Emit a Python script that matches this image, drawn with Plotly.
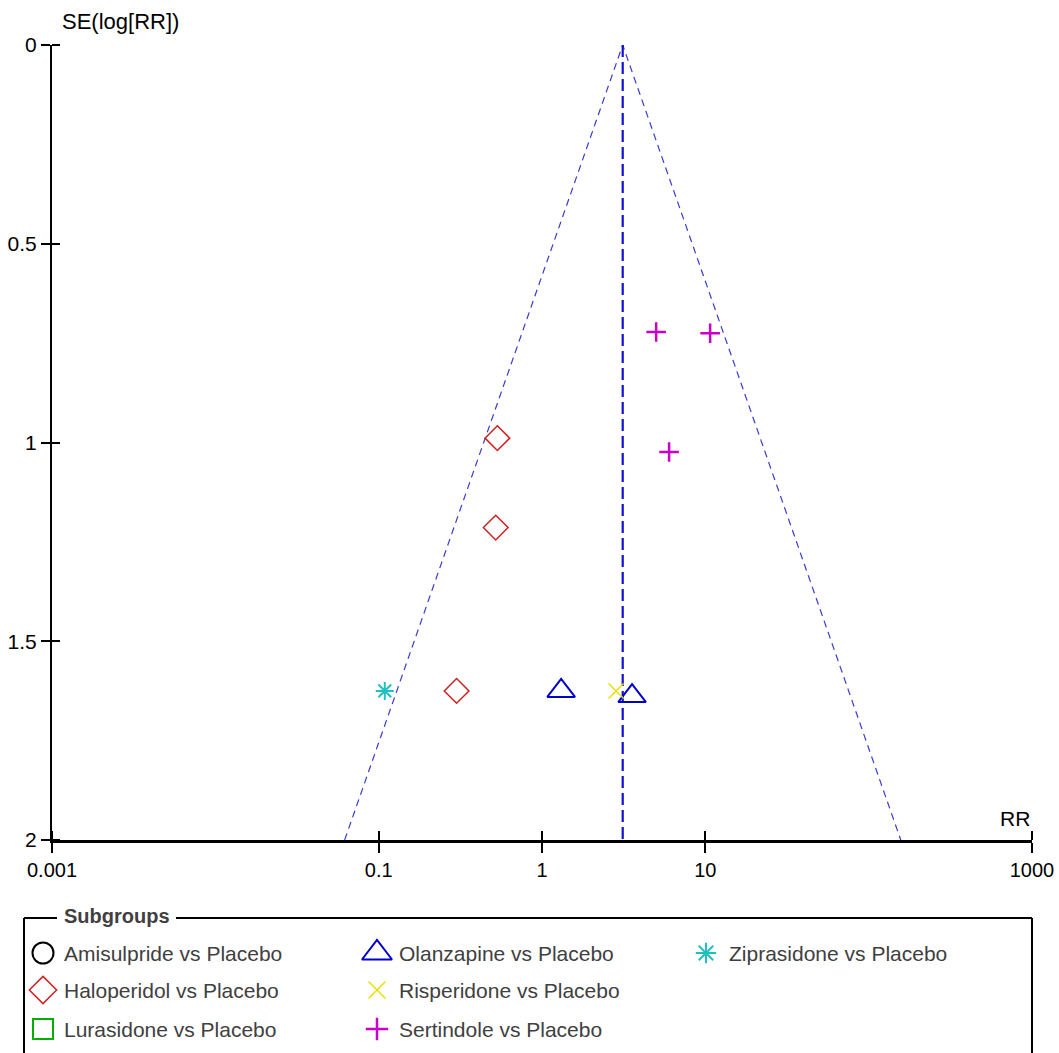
import math
import plotly.graph_objects as go

# ---------------- data ----------------
subgroups = ["Amisulpride vs Placebo", "Haloperidol vs Placebo", "Lurasidone vs Placebo",
             "Olanzapine vs Placebo", "Risperidone vs Placebo", "Sertindole vs Placebo",
             "Ziprasidone vs Placebo"]
rr_amisulpride = []
se_amisulpride = []
rr_haloperidol = [0.533, 0.521, 0.30]
se_haloperidol = [0.989, 1.214, 1.625]
rr_lurasidone = []
se_lurasidone = []
rr_olanzapine = [1.31, 3.56]
se_olanzapine = [1.625, 1.638]
rr_risperidone = [2.84]
se_risperidone = [1.625]
rr_sertindole = [5.0, 10.7, 6.0]
se_sertindole = [0.722, 0.725, 1.024]
rr_ziprasidone = [0.109]
se_ziprasidone = [1.625]

pooled_rr = 3.12
se_max = 2.0

x_tickvals = [0.001, 0.1, 1, 10, 1000]
x_ticktext = ["0.001", "0.1", "1", "10", "1000"]
y_tickvals = [0, 0.5, 1, 1.5, 2]
y_ticktext = ["0", "0.5", "1", "1.5", "2"]

# ---------------- styles ----------------
styles = {
    "Amisulpride vs Placebo": dict(symbol="circle-open", color="#000000", size=19, width=2),
    "Haloperidol vs Placebo": dict(symbol="diamond-open", color="#d02020", size=19, width=1.5),
    "Lurasidone vs Placebo": dict(symbol="square-open", color="#00b000", size=18, width=2),
    "Olanzapine vs Placebo": dict(symbol="triangle-up-open", color="#0000c8", size=24, width=2),
    "Risperidone vs Placebo": dict(symbol="x-thin-open", color="#e8e000", size=15, width=1.5),
    "Sertindole vs Placebo": dict(symbol="cross-thin-open", color="#c800c8", size=14, width=2.5),
    "Ziprasidone vs Placebo": dict(symbol="asterisk-open", color="#20c0c0", size=15, width=2),
}
series = {
    "Amisulpride vs Placebo": (rr_amisulpride, se_amisulpride),
    "Haloperidol vs Placebo": (rr_haloperidol, se_haloperidol),
    "Lurasidone vs Placebo": (rr_lurasidone, se_lurasidone),
    "Olanzapine vs Placebo": (rr_olanzapine, se_olanzapine),
    "Risperidone vs Placebo": (rr_risperidone, se_risperidone),
    "Sertindole vs Placebo": (rr_sertindole, se_sertindole),
    "Ziprasidone vs Placebo": (rr_ziprasidone, se_ziprasidone),
}

W, H = 1059, 1053
FONT = "Liberation Sans, Arial, sans-serif"

fig = go.Figure()

# funnel
lo = math.exp(math.log(pooled_rr) - 1.96 * se_max)
hi = math.exp(math.log(pooled_rr) + 1.96 * se_max)
fig.add_trace(go.Scatter(x=[lo, pooled_rr, hi], y=[se_max, 0, se_max], mode="lines",
                         line=dict(color="#3a3ad0", width=1.2, dash="7px,5px"),
                         showlegend=False, hoverinfo="skip"))
fig.add_trace(go.Scatter(x=[pooled_rr, pooled_rr], y=[0, se_max], mode="lines",
                         line=dict(color="#1010d8", width=2.2, dash="12px,5px"),
                         showlegend=False, hoverinfo="skip"))

for name in subgroups:
    xs, ys = series[name]
    st = styles[name]
    fig.add_trace(go.Scatter(x=xs, y=ys, mode="markers", name=name, showlegend=False,
                             marker=dict(symbol=st["symbol"], size=st["size"], color=st["color"],
                                         line=dict(color=st["color"], width=st["width"]))))

# ---------------- manual legend ----------------
leg_top = 890
col_x = [43, 377, 706]
row_y = [953, 990, 1029]
text_dx = [19, 20, 21]
annotations = []
for i, name in enumerate(subgroups):
    c, r = divmod(i, 3)
    st = styles[name]
    fig.add_trace(go.Scatter(x=[col_x[c]], y=[row_y[r]], xaxis="x2", yaxis="y2", mode="markers",
                             showlegend=False, hoverinfo="skip",
                             marker=dict(symbol=st["symbol"], size=st["size"] + 2, color=st["color"],
                                         line=dict(color=st["color"], width=st["width"]))))
    annotations.append(dict(x=col_x[c] + text_dx[c], y=row_y[r], xref="x2", yref="y2",
                            text=name, showarrow=False, xanchor="left", yanchor="middle",
                            font=dict(family=FONT, size=21, color="#404040")))
annotations.append(dict(x=62, y=916, xref="x2", yref="y2", text="<b>Subgroups</b>",
                        showarrow=False, xanchor="left", yanchor="middle",
                        font=dict(family=FONT, size=20, color="#404040")))
annotations.append(dict(x=60 / W, y=1 - 21 / H, xref="paper", yref="paper", text="SE(log[RR])",
                        showarrow=False, xanchor="left", yanchor="middle",
                        font=dict(family=FONT, size=22, color="#000000")))
annotations.append(dict(x=1032 / W, y=1 - 818 / H, xref="paper", yref="paper", text="RR",
                        showarrow=False, xanchor="right", yanchor="middle",
                        font=dict(family=FONT, size=21, color="#000000")))

shapes = [
    dict(type="line", xref="x2", yref="y2", x0=24, x1=57, y0=918, y1=918, line=dict(color="black", width=2)),
    dict(type="line", xref="x2", yref="y2", x0=176, x1=1032, y0=918, y1=918, line=dict(color="black", width=2)),
    dict(type="line", xref="x2", yref="y2", x0=24, x1=24, y0=918, y1=1053, line=dict(color="black", width=2)),
    dict(type="line", xref="x2", yref="y2", x0=1032, x1=1032, y0=918, y1=1053, line=dict(color="black", width=2)),
]

fig.update_layout(
    width=W, height=H, autosize=False,
    margin=dict(l=0, r=0, t=0, b=0, pad=0, autoexpand=False),
    paper_bgcolor="white", plot_bgcolor="white",
    font=dict(family=FONT, size=20, color="black"),
    showlegend=False, hovermode=False,
    annotations=annotations, shapes=shapes,
    xaxis=dict(type="log", range=[-3, 3], domain=[52 / W, 1032 / W],
               tickmode="array", tickvals=x_tickvals, ticktext=x_ticktext,
               ticks="outside", ticklen=10, tickwidth=1.5, tickcolor="black",
               minor=dict(tickmode="array", tickvals=x_tickvals, ticks="inside", ticklen=9,
                          tickwidth=1.5, tickcolor="black", showgrid=False),
               showline=True, linecolor="black", linewidth=3, showgrid=False, zeroline=False,
               automargin=False, ticklabelstandoff=0,
               tickfont=dict(family=FONT, size=20, color="black"), anchor="y"),
    yaxis=dict(range=[2, 0], domain=[1 - 840 / H, 1 - 45 / H],
               tickmode="array", tickvals=y_tickvals, ticktext=y_ticktext,
               ticks="outside", ticklen=9, tickwidth=1.5, tickcolor="black",
               minor=dict(tickmode="array", tickvals=y_tickvals, ticks="inside", ticklen=8,
                          tickwidth=1.5, tickcolor="black", showgrid=False),
               showline=True, linecolor="black", linewidth=2, showgrid=False, zeroline=False,
               automargin=False, ticklabelstandoff=0,
               tickfont=dict(family=FONT, size=21, color="black"), anchor="x"),
    xaxis2=dict(domain=[0, 1], range=[0, W], visible=False, anchor="y2", fixedrange=True,
                automargin=False),
    yaxis2=dict(domain=[0, (H - leg_top) / H], range=[H, leg_top], visible=False, anchor="x2",
                fixedrange=True, automargin=False),
)

fig.write_html("out.html", config={"responsive": False, "displayModeBar": False})
